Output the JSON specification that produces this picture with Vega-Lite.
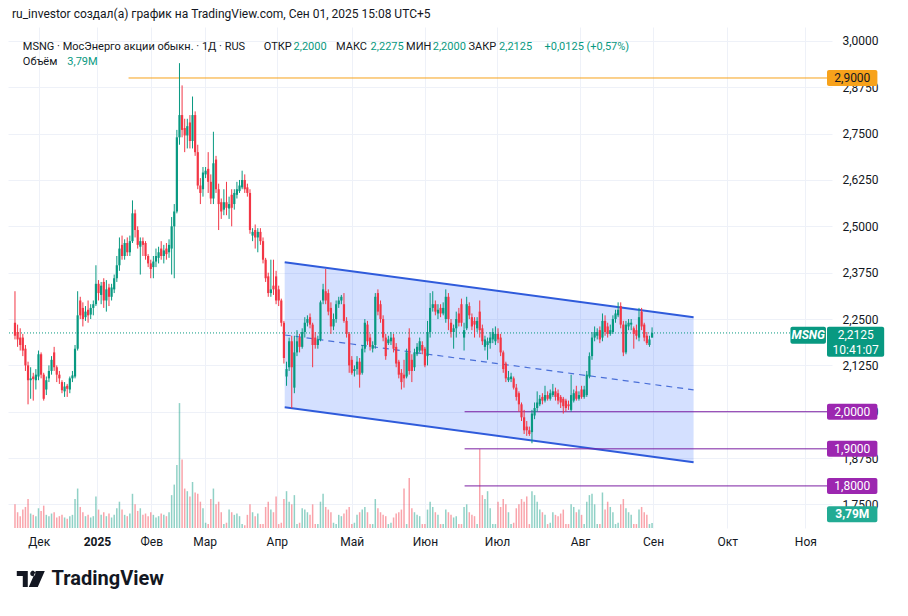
{
"$schema": "https://vega.github.io/schema/vega-lite/v6.json",
"width": 824, "height": 501,
"autosize": {"type": "none"},
"padding": {"left": 8, "top": 27, "right": 76, "bottom": 88},
"background": "#ffffff",
"view": {"stroke": null},
"config": {"font": "Roboto", "locale": {"number": {"decimal": ",", "thousands": " ", "grouping": [3], "currency": ["", ""]}},
 "axis": {"gridColor": "#eef1f8", "ticks": false, "domain": false, "labelFontSize": 12, "labelColor": "#131722", "labelFont": "Roboto"}},
"title": {"text": "ru_investor создал(а) график на TradingView.com, Сен 01, 2025 15:08 UTC+5", "anchor": "start", "frame": "group", "fontSize": 12, "fontWeight": "normal", "color": "#131722", "font": "Roboto", "offset": 6, "dx": 4},
"datasets": {
"candles": [
{"i":0,"o":2.240,"h":2.325,"l":2.195,"c":2.205,"v":18},
{"i":1,"o":2.215,"h":2.235,"l":2.175,"c":2.195,"v":12},
{"i":2,"o":2.200,"h":2.225,"l":2.165,"c":2.180,"v":9},
{"i":3,"o":2.200,"h":2.210,"l":2.150,"c":2.165,"v":14},
{"i":4,"o":2.170,"h":2.180,"l":2.110,"c":2.125,"v":16},
{"i":5,"o":2.125,"h":2.135,"l":2.020,"c":2.085,"v":22},
{"i":6,"o":2.085,"h":2.120,"l":2.035,"c":2.090,"v":11},
{"i":7,"o":2.095,"h":2.105,"l":2.030,"c":2.088,"v":10},
{"i":8,"o":2.085,"h":2.115,"l":2.060,"c":2.100,"v":9},
{"i":9,"o":2.095,"h":2.165,"l":2.085,"c":2.155,"v":15},
{"i":10,"o":2.155,"h":2.160,"l":2.090,"c":2.100,"v":13},
{"i":11,"o":2.100,"h":2.105,"l":2.030,"c":2.035,"v":17},
{"i":12,"o":2.060,"h":2.095,"l":2.045,"c":2.085,"v":10},
{"i":13,"o":2.090,"h":2.125,"l":2.080,"c":2.110,"v":9},
{"i":14,"o":2.110,"h":2.150,"l":2.100,"c":2.140,"v":11},
{"i":15,"o":2.160,"h":2.175,"l":2.110,"c":2.120,"v":12},
{"i":16,"o":2.120,"h":2.125,"l":2.080,"c":2.100,"v":8},
{"i":17,"o":2.100,"h":2.110,"l":2.075,"c":2.090,"v":9},
{"i":18,"o":2.080,"h":2.085,"l":2.050,"c":2.058,"v":10},
{"i":19,"o":2.055,"h":2.080,"l":2.040,"c":2.068,"v":8},
{"i":20,"o":2.070,"h":2.075,"l":2.040,"c":2.062,"v":7},
{"i":21,"o":2.060,"h":2.095,"l":2.050,"c":2.090,"v":9},
{"i":22,"o":2.090,"h":2.110,"l":2.080,"c":2.098,"v":10},
{"i":23,"o":2.095,"h":2.180,"l":2.090,"c":2.170,"v":22},
{"i":24,"o":2.170,"h":2.325,"l":2.165,"c":2.260,"v":30},
{"i":25,"o":2.300,"h":2.310,"l":2.250,"c":2.260,"v":16},
{"i":26,"o":2.280,"h":2.295,"l":2.230,"c":2.250,"v":12},
{"i":27,"o":2.255,"h":2.285,"l":2.245,"c":2.270,"v":9},
{"i":28,"o":2.275,"h":2.300,"l":2.240,"c":2.260,"v":10},
{"i":29,"o":2.262,"h":2.290,"l":2.250,"c":2.280,"v":8},
{"i":30,"o":2.280,"h":2.300,"l":2.260,"c":2.290,"v":9},
{"i":31,"o":2.290,"h":2.395,"l":2.285,"c":2.345,"v":24},
{"i":32,"o":2.345,"h":2.355,"l":2.300,"c":2.320,"v":14},
{"i":33,"o":2.315,"h":2.350,"l":2.290,"c":2.340,"v":10},
{"i":34,"o":2.350,"h":2.360,"l":2.280,"c":2.300,"v":12},
{"i":35,"o":2.300,"h":2.355,"l":2.270,"c":2.330,"v":9},
{"i":36,"o":2.335,"h":2.345,"l":2.285,"c":2.310,"v":11},
{"i":37,"o":2.310,"h":2.345,"l":2.300,"c":2.335,"v":8},
{"i":38,"o":2.330,"h":2.370,"l":2.320,"c":2.360,"v":10},
{"i":39,"o":2.360,"h":2.420,"l":2.350,"c":2.395,"v":15},
{"i":40,"o":2.395,"h":2.470,"l":2.380,"c":2.440,"v":20},
{"i":41,"o":2.450,"h":2.475,"l":2.410,"c":2.420,"v":14},
{"i":42,"o":2.420,"h":2.465,"l":2.410,"c":2.455,"v":10},
{"i":43,"o":2.455,"h":2.470,"l":2.420,"c":2.430,"v":9},
{"i":44,"o":2.430,"h":2.475,"l":2.420,"c":2.460,"v":11},
{"i":45,"o":2.460,"h":2.570,"l":2.455,"c":2.535,"v":26},
{"i":46,"o":2.535,"h":2.545,"l":2.470,"c":2.490,"v":18},
{"i":47,"o":2.490,"h":2.500,"l":2.440,"c":2.450,"v":13},
{"i":48,"o":2.445,"h":2.470,"l":2.370,"c":2.460,"v":15},
{"i":49,"o":2.460,"h":2.470,"l":2.420,"c":2.450,"v":10},
{"i":50,"o":2.455,"h":2.460,"l":2.410,"c":2.420,"v":11},
{"i":51,"o":2.420,"h":2.425,"l":2.390,"c":2.400,"v":9},
{"i":52,"o":2.400,"h":2.410,"l":2.360,"c":2.385,"v":12},
{"i":53,"o":2.390,"h":2.420,"l":2.360,"c":2.405,"v":10},
{"i":54,"o":2.405,"h":2.440,"l":2.390,"c":2.420,"v":8},
{"i":55,"o":2.415,"h":2.445,"l":2.400,"c":2.430,"v":9},
{"i":56,"o":2.440,"h":2.460,"l":2.410,"c":2.420,"v":11},
{"i":57,"o":2.420,"h":2.450,"l":2.400,"c":2.435,"v":10},
{"i":58,"o":2.440,"h":2.455,"l":2.410,"c":2.425,"v":9},
{"i":59,"o":2.430,"h":2.465,"l":2.415,"c":2.450,"v":12},
{"i":60,"o":2.440,"h":2.525,"l":2.370,"c":2.500,"v":25},
{"i":61,"o":2.500,"h":2.560,"l":2.360,"c":2.540,"v":33},
{"i":62,"o":2.540,"h":2.760,"l":2.535,"c":2.740,"v":48},
{"i":63,"o":2.740,"h":2.940,"l":2.720,"c":2.800,"v":95},
{"i":64,"o":2.800,"h":2.880,"l":2.740,"c":2.760,"v":52},
{"i":65,"o":2.765,"h":2.790,"l":2.700,"c":2.745,"v":30},
{"i":66,"o":2.745,"h":2.790,"l":2.710,"c":2.770,"v":28},
{"i":67,"o":2.780,"h":2.800,"l":2.710,"c":2.730,"v":24},
{"i":68,"o":2.730,"h":2.850,"l":2.710,"c":2.800,"v":35},
{"i":69,"o":2.800,"h":2.810,"l":2.690,"c":2.700,"v":27},
{"i":70,"o":2.700,"h":2.720,"l":2.600,"c":2.610,"v":26},
{"i":71,"o":2.610,"h":2.630,"l":2.560,"c":2.590,"v":20},
{"i":72,"o":2.600,"h":2.660,"l":2.580,"c":2.645,"v":15},
{"i":73,"o":2.640,"h":2.660,"l":2.630,"c":2.650,"v":4},
{"i":74,"o":2.655,"h":2.700,"l":2.590,"c":2.620,"v":3},
{"i":75,"o":2.620,"h":2.640,"l":2.560,"c":2.575,"v":22},
{"i":76,"o":2.575,"h":2.755,"l":2.560,"c":2.670,"v":30},
{"i":77,"o":2.680,"h":2.690,"l":2.590,"c":2.600,"v":18},
{"i":78,"o":2.600,"h":2.615,"l":2.490,"c":2.560,"v":20},
{"i":79,"o":2.565,"h":2.575,"l":2.520,"c":2.540,"v":12},
{"i":80,"o":2.545,"h":2.600,"l":2.530,"c":2.565,"v":3},
{"i":81,"o":2.565,"h":2.620,"l":2.530,"c":2.550,"v":4},
{"i":82,"o":2.548,"h":2.580,"l":2.520,"c":2.560,"v":14},
{"i":83,"o":2.585,"h":2.600,"l":2.500,"c":2.550,"v":12},
{"i":84,"o":2.560,"h":2.600,"l":2.545,"c":2.590,"v":10},
{"i":85,"o":2.585,"h":2.620,"l":2.575,"c":2.600,"v":11},
{"i":86,"o":2.595,"h":2.625,"l":2.590,"c":2.610,"v":9},
{"i":87,"o":2.605,"h":2.650,"l":2.600,"c":2.625,"v":3},
{"i":88,"o":2.625,"h":2.640,"l":2.590,"c":2.600,"v":2},
{"i":89,"o":2.605,"h":2.615,"l":2.580,"c":2.590,"v":10},
{"i":90,"o":2.590,"h":2.600,"l":2.480,"c":2.490,"v":18},
{"i":91,"o":2.475,"h":2.495,"l":2.460,"c":2.485,"v":12},
{"i":92,"o":2.490,"h":2.505,"l":2.440,"c":2.470,"v":9},
{"i":93,"o":2.470,"h":2.495,"l":2.430,"c":2.485,"v":11},
{"i":94,"o":2.485,"h":2.495,"l":2.450,"c":2.460,"v":3},
{"i":95,"o":2.460,"h":2.470,"l":2.400,"c":2.410,"v":3},
{"i":96,"o":2.410,"h":2.415,"l":2.350,"c":2.360,"v":16},
{"i":97,"o":2.365,"h":2.375,"l":2.310,"c":2.320,"v":20},
{"i":98,"o":2.320,"h":2.410,"l":2.310,"c":2.330,"v":14},
{"i":99,"o":2.340,"h":2.410,"l":2.315,"c":2.330,"v":12},
{"i":100,"o":2.365,"h":2.380,"l":2.290,"c":2.300,"v":24},
{"i":101,"o":2.330,"h":2.340,"l":2.285,"c":2.300,"v":3},
{"i":102,"o":2.300,"h":2.305,"l":2.230,"c":2.240,"v":4},
{"i":103,"o":2.240,"h":2.245,"l":2.130,"c":2.145,"v":22},
{"i":104,"o":2.095,"h":2.135,"l":2.070,"c":2.115,"v":28},
{"i":105,"o":2.120,"h":2.200,"l":2.110,"c":2.190,"v":20},
{"i":106,"o":2.190,"h":2.205,"l":2.010,"c":2.120,"v":18},
{"i":107,"o":2.065,"h":2.205,"l":2.050,"c":2.160,"v":25},
{"i":108,"o":2.160,"h":2.220,"l":2.150,"c":2.190,"v":3},
{"i":109,"o":2.200,"h":2.210,"l":2.160,"c":2.175,"v":4},
{"i":110,"o":2.175,"h":2.225,"l":2.170,"c":2.215,"v":15},
{"i":111,"o":2.215,"h":2.255,"l":2.200,"c":2.240,"v":14},
{"i":112,"o":2.240,"h":2.260,"l":2.230,"c":2.250,"v":12},
{"i":113,"o":2.255,"h":2.265,"l":2.225,"c":2.235,"v":10},
{"i":114,"o":2.235,"h":2.240,"l":2.120,"c":2.180,"v":18},
{"i":115,"o":2.200,"h":2.215,"l":2.170,"c":2.180,"v":3},
{"i":116,"o":2.180,"h":2.205,"l":2.170,"c":2.195,"v":3},
{"i":117,"o":2.195,"h":2.300,"l":2.190,"c":2.295,"v":20},
{"i":118,"o":2.300,"h":2.345,"l":2.290,"c":2.330,"v":26},
{"i":119,"o":2.325,"h":2.385,"l":2.290,"c":2.300,"v":16},
{"i":120,"o":2.320,"h":2.330,"l":2.260,"c":2.270,"v":14},
{"i":121,"o":2.280,"h":2.295,"l":2.210,"c":2.230,"v":12},
{"i":122,"o":2.230,"h":2.265,"l":2.220,"c":2.250,"v":4},
{"i":123,"o":2.250,"h":2.300,"l":2.240,"c":2.290,"v":3},
{"i":124,"o":2.290,"h":2.310,"l":2.280,"c":2.300,"v":10},
{"i":125,"o":2.300,"h":2.315,"l":2.290,"c":2.310,"v":9},
{"i":126,"o":2.290,"h":2.320,"l":2.240,"c":2.245,"v":11},
{"i":127,"o":2.245,"h":2.255,"l":2.200,"c":2.210,"v":14},
{"i":128,"o":2.210,"h":2.215,"l":2.105,"c":2.125,"v":16},
{"i":129,"o":2.140,"h":2.150,"l":2.100,"c":2.105,"v":3},
{"i":130,"o":2.110,"h":2.125,"l":2.095,"c":2.115,"v":4},
{"i":131,"o":2.115,"h":2.150,"l":2.100,"c":2.135,"v":10},
{"i":132,"o":2.135,"h":2.145,"l":2.065,"c":2.100,"v":12},
{"i":133,"o":2.105,"h":2.180,"l":2.100,"c":2.170,"v":14},
{"i":134,"o":2.170,"h":2.250,"l":2.160,"c":2.240,"v":16},
{"i":135,"o":2.235,"h":2.245,"l":2.180,"c":2.190,"v":12},
{"i":136,"o":2.200,"h":2.210,"l":2.165,"c":2.175,"v":3},
{"i":137,"o":2.170,"h":2.190,"l":2.160,"c":2.180,"v":3},
{"i":138,"o":2.180,"h":2.320,"l":2.170,"c":2.310,"v":22},
{"i":139,"o":2.320,"h":2.330,"l":2.260,"c":2.270,"v":15},
{"i":140,"o":2.290,"h":2.300,"l":2.240,"c":2.250,"v":12},
{"i":141,"o":2.250,"h":2.260,"l":2.190,"c":2.200,"v":10},
{"i":142,"o":2.200,"h":2.210,"l":2.140,"c":2.150,"v":9},
{"i":143,"o":2.185,"h":2.205,"l":2.180,"c":2.195,"v":3},
{"i":144,"o":2.190,"h":2.215,"l":2.180,"c":2.200,"v":4},
{"i":145,"o":2.200,"h":2.210,"l":2.160,"c":2.170,"v":8},
{"i":146,"o":2.175,"h":2.185,"l":2.120,"c":2.130,"v":11},
{"i":147,"o":2.135,"h":2.140,"l":2.090,"c":2.100,"v":12},
{"i":148,"o":2.105,"h":2.115,"l":2.060,"c":2.080,"v":14},
{"i":149,"o":2.100,"h":2.140,"l":2.065,"c":2.090,"v":30},
{"i":150,"o":2.095,"h":2.170,"l":2.090,"c":2.160,"v":3},
{"i":151,"o":2.200,"h":2.225,"l":2.100,"c":2.110,"v":38},
{"i":152,"o":2.140,"h":2.155,"l":2.080,"c":2.110,"v":15},
{"i":153,"o":2.120,"h":2.170,"l":2.110,"c":2.160,"v":12},
{"i":154,"o":2.155,"h":2.185,"l":2.150,"c":2.175,"v":10},
{"i":155,"o":2.165,"h":2.200,"l":2.160,"c":2.190,"v":9},
{"i":156,"o":2.180,"h":2.190,"l":2.155,"c":2.165,"v":3},
{"i":157,"o":2.170,"h":2.175,"l":2.120,"c":2.125,"v":3},
{"i":158,"o":2.150,"h":2.245,"l":2.125,"c":2.215,"v":14},
{"i":159,"o":2.215,"h":2.320,"l":2.200,"c":2.280,"v":20},
{"i":160,"o":2.280,"h":2.325,"l":2.270,"c":2.290,"v":16},
{"i":161,"o":2.290,"h":2.300,"l":2.260,"c":2.270,"v":12},
{"i":162,"o":2.265,"h":2.290,"l":2.250,"c":2.275,"v":10},
{"i":163,"o":2.280,"h":2.290,"l":2.255,"c":2.265,"v":3},
{"i":164,"o":2.265,"h":2.295,"l":2.260,"c":2.280,"v":3},
{"i":165,"o":2.250,"h":2.330,"l":2.240,"c":2.310,"v":14},
{"i":166,"o":2.310,"h":2.320,"l":2.220,"c":2.250,"v":12},
{"i":167,"o":2.240,"h":2.250,"l":2.200,"c":2.215,"v":10},
{"i":168,"o":2.215,"h":2.235,"l":2.170,"c":2.225,"v":8},
{"i":169,"o":2.225,"h":2.270,"l":2.200,"c":2.250,"v":9},
{"i":170,"o":2.265,"h":2.280,"l":2.230,"c":2.240,"v":3},
{"i":171,"o":2.290,"h":2.305,"l":2.230,"c":2.240,"v":3},
{"i":172,"o":2.200,"h":2.240,"l":2.165,"c":2.220,"v":16},
{"i":173,"o":2.225,"h":2.310,"l":2.220,"c":2.290,"v":18},
{"i":174,"o":2.285,"h":2.295,"l":2.250,"c":2.260,"v":12},
{"i":175,"o":2.255,"h":2.265,"l":2.220,"c":2.230,"v":10},
{"i":176,"o":2.245,"h":2.255,"l":2.200,"c":2.235,"v":9},
{"i":177,"o":2.225,"h":2.255,"l":2.215,"c":2.245,"v":3},
{"i":178,"o":2.270,"h":2.300,"l":2.200,"c":2.220,"v":60},
{"i":179,"o":2.225,"h":2.235,"l":2.180,"c":2.190,"v":25},
{"i":180,"o":2.175,"h":2.205,"l":2.165,"c":2.195,"v":22},
{"i":181,"o":2.180,"h":2.200,"l":2.140,"c":2.190,"v":28},
{"i":182,"o":2.185,"h":2.215,"l":2.170,"c":2.200,"v":15},
{"i":183,"o":2.195,"h":2.225,"l":2.185,"c":2.215,"v":3},
{"i":184,"o":2.190,"h":2.230,"l":2.180,"c":2.210,"v":3},
{"i":185,"o":2.210,"h":2.225,"l":2.185,"c":2.195,"v":20},
{"i":186,"o":2.200,"h":2.210,"l":2.150,"c":2.160,"v":16},
{"i":187,"o":2.160,"h":2.165,"l":2.105,"c":2.115,"v":22},
{"i":188,"o":2.130,"h":2.135,"l":2.080,"c":2.090,"v":18},
{"i":189,"o":2.085,"h":2.110,"l":2.080,"c":2.093,"v":12},
{"i":190,"o":2.088,"h":2.105,"l":2.080,"c":2.095,"v":3},
{"i":191,"o":2.090,"h":2.095,"l":2.060,"c":2.065,"v":4},
{"i":192,"o":2.065,"h":2.075,"l":2.030,"c":2.040,"v":15},
{"i":193,"o":2.050,"h":2.055,"l":2.000,"c":2.020,"v":18},
{"i":194,"o":2.020,"h":2.025,"l":1.975,"c":1.985,"v":22},
{"i":195,"o":1.985,"h":2.005,"l":1.940,"c":1.950,"v":20},
{"i":196,"o":1.960,"h":1.975,"l":1.935,"c":1.950,"v":24},
{"i":197,"o":1.950,"h":1.960,"l":1.935,"c":1.940,"v":3},
{"i":198,"o":1.945,"h":2.005,"l":1.915,"c":1.995,"v":28},
{"i":199,"o":1.990,"h":2.025,"l":1.980,"c":2.010,"v":25},
{"i":200,"o":2.010,"h":2.055,"l":2.000,"c":2.025,"v":20},
{"i":201,"o":2.020,"h":2.045,"l":2.015,"c":2.035,"v":14},
{"i":202,"o":2.040,"h":2.050,"l":2.020,"c":2.030,"v":12},
{"i":203,"o":2.030,"h":2.070,"l":2.025,"c":2.045,"v":10},
{"i":204,"o":2.045,"h":2.055,"l":2.030,"c":2.035,"v":3},
{"i":205,"o":2.035,"h":2.060,"l":2.030,"c":2.050,"v":4},
{"i":206,"o":2.045,"h":2.075,"l":2.040,"c":2.055,"v":12},
{"i":207,"o":2.055,"h":2.065,"l":2.030,"c":2.040,"v":10},
{"i":208,"o":2.050,"h":2.060,"l":2.020,"c":2.030,"v":9},
{"i":209,"o":2.040,"h":2.045,"l":2.010,"c":2.025,"v":11},
{"i":210,"o":2.035,"h":2.040,"l":1.995,"c":2.015,"v":14},
{"i":211,"o":2.030,"h":2.035,"l":2.000,"c":2.010,"v":3},
{"i":212,"o":2.020,"h":2.030,"l":2.005,"c":2.015,"v":3},
{"i":213,"o":2.005,"h":2.100,"l":2.000,"c":2.045,"v":18},
{"i":214,"o":2.030,"h":2.060,"l":2.025,"c":2.050,"v":16},
{"i":215,"o":2.055,"h":2.070,"l":2.030,"c":2.035,"v":12},
{"i":216,"o":2.035,"h":2.055,"l":2.030,"c":2.045,"v":14},
{"i":217,"o":2.060,"h":2.070,"l":2.035,"c":2.040,"v":10},
{"i":218,"o":2.040,"h":2.070,"l":2.035,"c":2.060,"v":3},
{"i":219,"o":2.045,"h":2.110,"l":2.040,"c":2.100,"v":20},
{"i":220,"o":2.095,"h":2.160,"l":2.090,"c":2.150,"v":25},
{"i":221,"o":2.150,"h":2.215,"l":2.140,"c":2.200,"v":26},
{"i":222,"o":2.200,"h":2.230,"l":2.190,"c":2.215,"v":18},
{"i":223,"o":2.205,"h":2.225,"l":2.195,"c":2.215,"v":3},
{"i":224,"o":2.220,"h":2.230,"l":2.185,"c":2.195,"v":3},
{"i":225,"o":2.200,"h":2.265,"l":2.190,"c":2.245,"v":27},
{"i":226,"o":2.245,"h":2.260,"l":2.205,"c":2.215,"v":14},
{"i":227,"o":2.230,"h":2.240,"l":2.200,"c":2.210,"v":20},
{"i":228,"o":2.210,"h":2.235,"l":2.205,"c":2.220,"v":16},
{"i":229,"o":2.215,"h":2.260,"l":2.210,"c":2.250,"v":12},
{"i":230,"o":2.250,"h":2.275,"l":2.240,"c":2.265,"v":3},
{"i":231,"o":2.260,"h":2.295,"l":2.255,"c":2.275,"v":4},
{"i":232,"o":2.285,"h":2.295,"l":2.225,"c":2.235,"v":18},
{"i":233,"o":2.235,"h":2.245,"l":2.150,"c":2.160,"v":22},
{"i":234,"o":2.160,"h":2.245,"l":2.155,"c":2.235,"v":15},
{"i":235,"o":2.230,"h":2.250,"l":2.220,"c":2.240,"v":12},
{"i":236,"o":2.235,"h":2.250,"l":2.220,"c":2.240,"v":10},
{"i":237,"o":2.225,"h":2.230,"l":2.170,"c":2.210,"v":3},
{"i":238,"o":2.220,"h":2.235,"l":2.195,"c":2.205,"v":3},
{"i":239,"o":2.200,"h":2.280,"l":2.190,"c":2.255,"v":14},
{"i":240,"o":2.270,"h":2.280,"l":2.220,"c":2.230,"v":16},
{"i":241,"o":2.235,"h":2.240,"l":2.190,"c":2.200,"v":12},
{"i":242,"o":2.205,"h":2.215,"l":2.180,"c":2.185,"v":10},
{"i":243,"o":2.180,"h":2.205,"l":2.175,"c":2.195,"v":3},
{"i":244,"o":2.200,"h":2.2275,"l":2.200,"c":2.2125,"v":3.79}
],
"channel": [
{"i":103.3,"top":2.403,"mid":2.207,"bot":2.012},
{"i":259.9,"top":2.255,"mid":2.059,"bot":1.864}
],
"levels": [
{"p":2.9,"a":43.5,"b":311,"k":"o"},
{"p":2.0,"a":172.2,"b":311,"k":"po"},
{"p":1.9,"a":172.2,"b":311,"k":"po"},
{"p":1.8,"a":172.2,"b":311,"k":"po"}
],
"tags": [
{"p":2.9,"k":"o"},
{"p":2.0,"k":"p"},
{"p":1.9,"k":"p"},
{"p":1.8,"k":"p"}
]
},
"resolve": {"scale": {"y": "independent"}},
"layer": [
{
"data": {"name": "candles"},
"mark": {"type": "bar", "width": 1.5},
"encoding": {
"x": {"field": "i", "type": "quantitative", "title": null, "scale": {"domain": [-0.76, 311.0], "nice": false, "zero": false},
 "axis": {"values": [9.1, 31.4, 52.2, 72.6, 100.3, 129, 157, 184.6, 216.4, 244.4, 272.8, 302.7],
  "labelExpr": "datum.value < 20 ? 'Дек' : datum.value < 40 ? '2025' : datum.value < 60 ? 'Фев' : datum.value < 90 ? 'Мар' : datum.value < 115 ? 'Апр' : datum.value < 140 ? 'Май' : datum.value < 170 ? 'Июн' : datum.value < 200 ? 'Июл' : datum.value < 230 ? 'Авг' : datum.value < 260 ? 'Сен' : datum.value < 290 ? 'Окт' : 'Ноя'",
  "labelFontWeight": {"condition": {"test": "datum.value > 30 && datum.value < 33", "value": "bold"}, "value": "normal"},
  "grid": true, "labelPadding": 8, "labelFlush": false, "labelOverlap": false, "title": null}},
"y": {"field": "v", "type": "quantitative", "title": null, "scale": {"domain": [0, 381], "nice": false, "zero": true}, "axis": null},
"color": {"condition": {"test": "datum.c >= datum.o", "value": "#089981"}, "value": "#f23645"},
"opacity": {"value": 0.45}
}
},
{
"layer": [
{
"data": {"name": "channel"},
"mark": {"type": "area", "color": "#2962ff", "opacity": 0.2},
"encoding": {
"x": {"field": "i", "type": "quantitative", "title": null, "scale": {"domain": [-0.76, 311.0], "nice": false, "zero": false}},
"y": {"field": "top", "type": "quantitative", "title": null, "scale": {"domain": [1.7, 3.024], "nice": false, "zero": false},
 "axis": {"orient": "right", "values": [1.75, 1.875, 2.0, 2.125, 2.25, 2.375, 2.5, 2.625, 2.75, 2.875, 3.0], "format": ".4f",
  "grid": true, "labelPadding": 10, "labelFlush": false, "labelOverlap": false, "title": null}},
"y2": {"field": "bot"}
}
},
{
"data": {"name": "channel"},
"mark": {"type": "line", "color": "#2f5bdb", "strokeWidth": 2},
"encoding": {
"x": {"field": "i", "type": "quantitative", "title": null, "scale": {"domain": [-0.76, 311.0], "nice": false, "zero": false}},
"y": {"field": "top", "type": "quantitative", "title": null, "scale": {"domain": [1.7, 3.024], "nice": false, "zero": false}}
}
},
{
"data": {"name": "channel"},
"mark": {"type": "line", "color": "#2f5bdb", "strokeWidth": 2},
"encoding": {
"x": {"field": "i", "type": "quantitative", "title": null, "scale": {"domain": [-0.76, 311.0], "nice": false, "zero": false}},
"y": {"field": "bot", "type": "quantitative", "title": null, "scale": {"domain": [1.7, 3.024], "nice": false, "zero": false}}
}
},
{
"data": {"name": "channel"},
"mark": {"type": "line", "color": "#4a6fd8", "strokeWidth": 1.2, "strokeDash": [6, 5]},
"encoding": {
"x": {"field": "i", "type": "quantitative", "title": null, "scale": {"domain": [-0.76, 311.0], "nice": false, "zero": false}},
"y": {"field": "mid", "type": "quantitative", "title": null, "scale": {"domain": [1.7, 3.024], "nice": false, "zero": false}}
}
},
{
"data": {"name": "levels"},
"mark": {"type": "rule", "strokeWidth": 1},
"encoding": {
"x": {"field": "a", "type": "quantitative", "title": null, "scale": {"domain": [-0.76, 311.0], "nice": false, "zero": false}},
"x2": {"field": "b"},
"y": {"field": "p", "type": "quantitative", "title": null, "scale": {"domain": [1.7, 3.024], "nice": false, "zero": false}},
"color": {"field": "k", "type": "nominal", "scale": {"domain": ["o", "p", "po", "g"], "range": ["#f7a21b", "#9c27b0", "#7b1fa2", "#089981"]}, "legend": null}
}
},
{
"data": {"values": [{"p": 2.2125}]},
"mark": {"type": "rule", "strokeWidth": 1, "strokeDash": [1, 2], "color": "#089981"},
"encoding": {
"y": {"field": "p", "type": "quantitative", "title": null, "scale": {"domain": [1.7, 3.024], "nice": false, "zero": false}}
}
},
{
"data": {"name": "candles"},
"mark": {"type": "rule", "strokeWidth": 1},
"encoding": {
"x": {"field": "i", "type": "quantitative", "title": null, "scale": {"domain": [-0.76, 311.0], "nice": false, "zero": false}},
"y": {"field": "l", "type": "quantitative", "title": null, "scale": {"domain": [1.7, 3.024], "nice": false, "zero": false}},
"y2": {"field": "h"},
"color": {"condition": {"test": "datum.c >= datum.o", "value": "#089981"}, "value": "#f23645"}
}
},
{
"data": {"name": "candles"},
"mark": {"type": "bar", "width": 2.2},
"encoding": {
"x": {"field": "i", "type": "quantitative", "title": null, "scale": {"domain": [-0.76, 311.0], "nice": false, "zero": false}},
"y": {"field": "o", "type": "quantitative", "title": null, "scale": {"domain": [1.7, 3.024], "nice": false, "zero": false}},
"y2": {"field": "c"},
"color": {"condition": {"test": "datum.c >= datum.o", "value": "#089981"}, "value": "#f23645"}
}
},
{
"data": {"name": "tags"},
"mark": {"type": "bar", "height": 16, "cornerRadius": 2},
"encoding": {
"x": {"datum": 311.0, "type": "quantitative", "title": null, "scale": {"domain": [-0.76, 311.0], "nice": false, "zero": false}},
"x2": {"datum": 330.3},
"y": {"field": "p", "type": "quantitative", "title": null, "scale": {"domain": [1.7, 3.024], "nice": false, "zero": false}},
"color": {"field": "k", "type": "nominal", "scale": {"domain": ["o", "p", "po", "g"], "range": ["#f7a21b", "#9c27b0", "#7b1fa2", "#089981"]}, "legend": null}
}
},
{
"data": {"name": "tags"},
"mark": {"type": "text", "align": "center", "baseline": "middle", "fontSize": 12, "font": "Roboto"},
"encoding": {
"x": {"datum": 320.7, "type": "quantitative", "title": null, "scale": {"domain": [-0.76, 311.0], "nice": false, "zero": false}},
"y": {"field": "p", "type": "quantitative", "title": null, "scale": {"domain": [1.7, 3.024], "nice": false, "zero": false}},
"text": {"field": "p", "type": "quantitative", "format": ".4f"},
"color": {"condition": {"test": "datum.k == 'o'", "value": "#131722"}, "value": "#ffffff"}
}
},
{
"data": {"values": [{}]},
"mark": {"type": "bar", "height": 17, "color": "#089981", "cornerRadius": 2},
"encoding": {
"x": {"datum": 297.0, "type": "quantitative", "title": null, "scale": {"domain": [-0.76, 311.0], "nice": false, "zero": false}},
"x2": {"datum": 310.6},
"y": {"datum": 2.2061, "type": "quantitative", "title": null, "scale": {"domain": [1.7, 3.024], "nice": false, "zero": false}}
}
},
{
"data": {"values": [{}]},
"mark": {"type": "text", "text": "MSNG", "align": "center", "baseline": "middle", "fontSize": 12, "fontWeight": "bold", "fontStyle": "italic", "color": "#ffffff", "font": "Roboto"},
"encoding": {
"x": {"datum": 303.8, "type": "quantitative", "title": null, "scale": {"domain": [-0.76, 311.0], "nice": false, "zero": false}},
"y": {"datum": 2.2061, "type": "quantitative", "title": null, "scale": {"domain": [1.7, 3.024], "nice": false, "zero": false}}
}
},
{
"data": {"values": [{}]},
"mark": {"type": "bar", "height": 30, "color": "#089981", "cornerRadius": 2},
"encoding": {
"x": {"datum": 311.0, "type": "quantitative", "title": null, "scale": {"domain": [-0.76, 311.0], "nice": false, "zero": false}},
"x2": {"datum": 332.9},
"y": {"datum": 2.1889, "type": "quantitative", "title": null, "scale": {"domain": [1.7, 3.024], "nice": false, "zero": false}}
}
},
{
"data": {"values": [{}]},
"mark": {"type": "text", "text": "2,2125", "align": "center", "baseline": "middle", "fontSize": 12, "color": "#ffffff", "font": "Roboto"},
"encoding": {
"x": {"datum": 322.0, "type": "quantitative", "title": null, "scale": {"domain": [-0.76, 311.0], "nice": false, "zero": false}},
"y": {"datum": 2.2074, "type": "quantitative", "title": null, "scale": {"domain": [1.7, 3.024], "nice": false, "zero": false}}
}
},
{
"data": {"values": [{}]},
"mark": {"type": "text", "text": "10:41:07", "align": "center", "baseline": "middle", "fontSize": 12, "color": "#ffffff", "font": "Roboto"},
"encoding": {
"x": {"datum": 322.0, "type": "quantitative", "title": null, "scale": {"domain": [-0.76, 311.0], "nice": false, "zero": false}},
"y": {"datum": 2.1678, "type": "quantitative", "title": null, "scale": {"domain": [1.7, 3.024], "nice": false, "zero": false}}
}
},
{
"data": {"values": [{}]},
"mark": {"type": "bar", "height": 16, "color": "#22ab94", "cornerRadius": 2},
"encoding": {
"x": {"datum": 311.0, "type": "quantitative", "title": null, "scale": {"domain": [-0.76, 311.0], "nice": false, "zero": false}},
"x2": {"datum": 330.3},
"y": {"datum": 1.7238, "type": "quantitative", "title": null, "scale": {"domain": [1.7, 3.024], "nice": false, "zero": false}}
}
},
{
"data": {"values": [{}]},
"mark": {"type": "text", "text": "3,79M", "align": "center", "baseline": "middle", "fontSize": 12, "fontWeight": "bold", "color": "#ffffff", "font": "Roboto"},
"encoding": {
"x": {"datum": 320.7, "type": "quantitative", "title": null, "scale": {"domain": [-0.76, 311.0], "nice": false, "zero": false}},
"y": {"datum": 1.7238, "type": "quantitative", "title": null, "scale": {"domain": [1.7, 3.024], "nice": false, "zero": false}}
}
},
{
"data": {"values": [{}]},
"mark": {"type": "text", "text": "MSNG · МосЭнерго акции обыкн. · 1Д · RUS", "align": "left", "baseline": "middle", "fontSize": 11, "color": "#131722", "font": "Roboto"},
"encoding": {
"x": {"datum": 3.02, "type": "quantitative", "title": null, "scale": {"domain": [-0.76, 311.0], "nice": false, "zero": false}},
"y": {"datum": 2.9844, "type": "quantitative", "title": null, "scale": {"domain": [1.7, 3.024], "nice": false, "zero": false}}
}
},
{
"data": {"values": [{}]},
"mark": {"type": "text", "text": "ОТКР", "align": "left", "baseline": "middle", "fontSize": 11, "color": "#131722", "font": "Roboto"},
"encoding": {
"x": {"datum": 95.3, "type": "quantitative", "title": null, "scale": {"domain": [-0.76, 311.0], "nice": false, "zero": false}},
"y": {"datum": 2.9844, "type": "quantitative", "title": null, "scale": {"domain": [1.7, 3.024], "nice": false, "zero": false}}
}
},
{
"data": {"values": [{}]},
"mark": {"type": "text", "text": "2,2000", "align": "left", "baseline": "middle", "fontSize": 11, "color": "#089981", "font": "Roboto"},
"encoding": {
"x": {"datum": 106.7, "type": "quantitative", "title": null, "scale": {"domain": [-0.76, 311.0], "nice": false, "zero": false}},
"y": {"datum": 2.9844, "type": "quantitative", "title": null, "scale": {"domain": [1.7, 3.024], "nice": false, "zero": false}}
}
},
{
"data": {"values": [{}]},
"mark": {"type": "text", "text": "МАКС", "align": "left", "baseline": "middle", "fontSize": 11, "color": "#131722", "font": "Roboto"},
"encoding": {
"x": {"datum": 122.97, "type": "quantitative", "title": null, "scale": {"domain": [-0.76, 311.0], "nice": false, "zero": false}},
"y": {"datum": 2.9844, "type": "quantitative", "title": null, "scale": {"domain": [1.7, 3.024], "nice": false, "zero": false}}
}
},
{
"data": {"values": [{}]},
"mark": {"type": "text", "text": "2,2275", "align": "left", "baseline": "middle", "fontSize": 11, "color": "#089981", "font": "Roboto"},
"encoding": {
"x": {"datum": 136.2, "type": "quantitative", "title": null, "scale": {"domain": [-0.76, 311.0], "nice": false, "zero": false}},
"y": {"datum": 2.9844, "type": "quantitative", "title": null, "scale": {"domain": [1.7, 3.024], "nice": false, "zero": false}}
}
},
{
"data": {"values": [{}]},
"mark": {"type": "text", "text": "МИН", "align": "left", "baseline": "middle", "fontSize": 11, "color": "#131722", "font": "Roboto"},
"encoding": {
"x": {"datum": 149.8, "type": "quantitative", "title": null, "scale": {"domain": [-0.76, 311.0], "nice": false, "zero": false}},
"y": {"datum": 2.9844, "type": "quantitative", "title": null, "scale": {"domain": [1.7, 3.024], "nice": false, "zero": false}}
}
},
{
"data": {"values": [{}]},
"mark": {"type": "text", "text": "2,2000", "align": "left", "baseline": "middle", "fontSize": 11, "color": "#089981", "font": "Roboto"},
"encoding": {
"x": {"datum": 160.0, "type": "quantitative", "title": null, "scale": {"domain": [-0.76, 311.0], "nice": false, "zero": false}},
"y": {"datum": 2.9844, "type": "quantitative", "title": null, "scale": {"domain": [1.7, 3.024], "nice": false, "zero": false}}
}
},
{
"data": {"values": [{}]},
"mark": {"type": "text", "text": "ЗАКР", "align": "left", "baseline": "middle", "fontSize": 11, "color": "#131722", "font": "Roboto"},
"encoding": {
"x": {"datum": 173.7, "type": "quantitative", "title": null, "scale": {"domain": [-0.76, 311.0], "nice": false, "zero": false}},
"y": {"datum": 2.9844, "type": "quantitative", "title": null, "scale": {"domain": [1.7, 3.024], "nice": false, "zero": false}}
}
},
{
"data": {"values": [{}]},
"mark": {"type": "text", "text": "2,2125", "align": "left", "baseline": "middle", "fontSize": 11, "color": "#089981", "font": "Roboto"},
"encoding": {
"x": {"datum": 185.4, "type": "quantitative", "title": null, "scale": {"domain": [-0.76, 311.0], "nice": false, "zero": false}},
"y": {"datum": 2.9844, "type": "quantitative", "title": null, "scale": {"domain": [1.7, 3.024], "nice": false, "zero": false}}
}
},
{
"data": {"values": [{}]},
"mark": {"type": "text", "text": "+0,0125 (+0,57%)", "align": "left", "baseline": "middle", "fontSize": 11, "color": "#089981", "font": "Roboto"},
"encoding": {
"x": {"datum": 202.8, "type": "quantitative", "title": null, "scale": {"domain": [-0.76, 311.0], "nice": false, "zero": false}},
"y": {"datum": 2.9844, "type": "quantitative", "title": null, "scale": {"domain": [1.7, 3.024], "nice": false, "zero": false}}
}
},
{
"data": {"values": [{}]},
"mark": {"type": "text", "text": "Объём", "align": "left", "baseline": "middle", "fontSize": 11, "color": "#131722", "font": "Roboto"},
"encoding": {
"x": {"datum": 3.02, "type": "quantitative", "title": null, "scale": {"domain": [-0.76, 311.0], "nice": false, "zero": false}},
"y": {"datum": 2.9421, "type": "quantitative", "title": null, "scale": {"domain": [1.7, 3.024], "nice": false, "zero": false}}
}
},
{
"data": {"values": [{}]},
"mark": {"type": "text", "text": "3,79M", "align": "left", "baseline": "middle", "fontSize": 11, "color": "#089981", "font": "Roboto"},
"encoding": {
"x": {"datum": 20.05, "type": "quantitative", "title": null, "scale": {"domain": [-0.76, 311.0], "nice": false, "zero": false}},
"y": {"datum": 2.9421, "type": "quantitative", "title": null, "scale": {"domain": [1.7, 3.024], "nice": false, "zero": false}}
}
},
{
"data": {"values": [{}]},
"mark": {"type": "point", "filled": true, "opacity": 1, "size": 784, "color": "#131722",
 "shape": "M-1,-0.571H-0.214V0.571H-0.571V-0.214H-1Z M-0.036,-0.393a0.179,0.179 0 1,0 0.357,0a0.179,0.179 0 1,0 -0.357,0Z M0.357,-0.571H1L0.5,0.571H-0.143Z"},
"encoding": {
"x": {"datum": 6.05, "type": "quantitative", "title": null, "scale": {"domain": [-0.76, 311.0], "nice": false, "zero": false}},
"y": {"datum": 1.549, "type": "quantitative", "title": null, "scale": {"domain": [1.7, 3.024], "nice": false, "zero": false}}
}
},
{
"data": {"values": [{}]},
"mark": {"type": "text", "text": "TradingView", "align": "left", "baseline": "middle", "fontSize": 20, "fontWeight": "bold", "color": "#131722", "font": "Roboto"},
"encoding": {
"x": {"datum": 14.0, "type": "quantitative", "title": null, "scale": {"domain": [-0.76, 311.0], "nice": false, "zero": false}},
"y": {"datum": 1.549, "type": "quantitative", "title": null, "scale": {"domain": [1.7, 3.024], "nice": false, "zero": false}}
}
}
]
}
]
}
